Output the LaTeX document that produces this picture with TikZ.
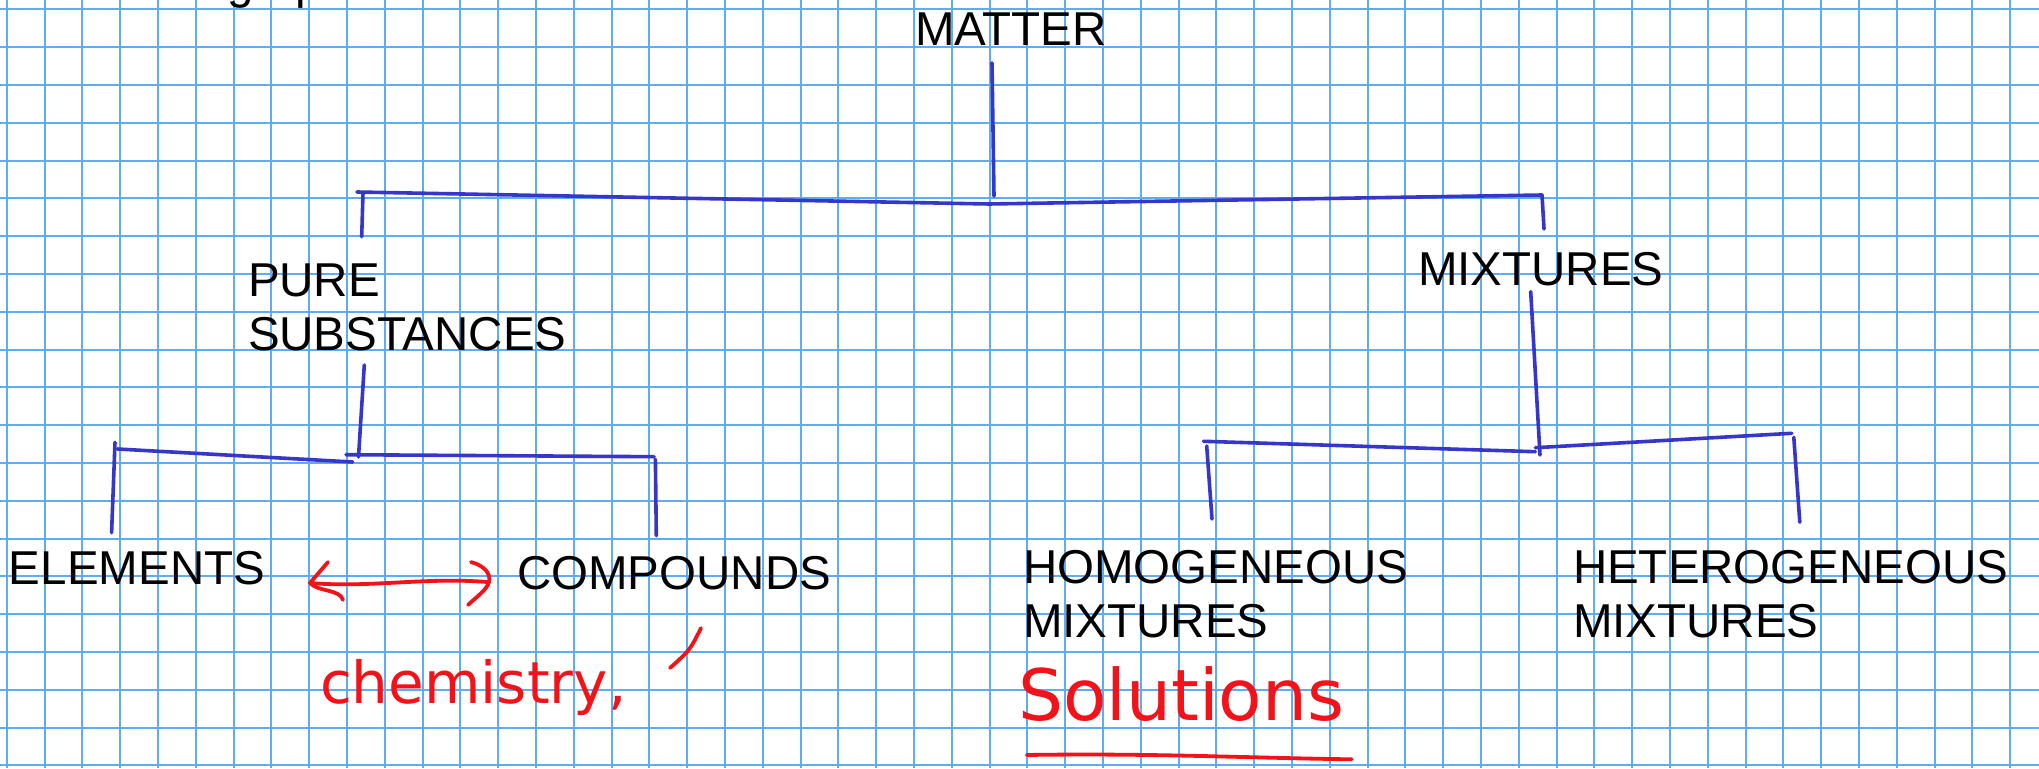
\documentclass[tikz,border=0pt]{standalone}
\usepackage{fontspec}
\setmainfont{Liberation Sans}
\newfontfamily\inkface{DejaVu Sans}
\usepackage{xcolor}
\definecolor{cGrid}{HTML}{5EABF6}
\definecolor{cTree}{HTML}{3636C9}
\definecolor{cInk}{HTML}{F2121A}
\usepackage{tikz}
\usetikzlibrary{calc}
\newcommand\lblfont{\fontsize{47.5}{53.5}\selectfont}
\newcommand\inkfont{\inkface\fontsize{58}{64}\selectfont}
\tikzset{
  node-label/.style={font=\lblfont,inner sep=0pt,outer sep=0pt,
    anchor=base west,align=left},
  node-ink/.style={font=\inkfont,text=cInk,inner sep=0pt,outer sep=0pt,
    anchor=base west},
  line-grid/.style={draw=cGrid,line width=2pt},
  line-tree/.style={draw=cTree,line width=3.6pt,line cap=round},
  line-ink/.style={draw=cInk,line width=3.8pt,line cap=round,line join=round},
}

\begin{document}
\begin{tikzpicture}[x=1pt,y=-1pt]
  \useasboundingbox (0,0) rectangle (2039,768);
  \fill[white] (0,0) rectangle (2039,768);
  % graph paper
  \foreach \k in {0,...,53}
    \draw[line-grid] ({6.7+37.8*\k},0) -- ({6.7+37.8*\k},768);
  \foreach \k in {0,...,20}
    \draw[line-grid] (0,{9.3+37.8*\k}) -- (2039,{9.3+37.8*\k});

  % labels (base of a two-line label = its last line)
  \node[node-label] (hdr) at (227,-1) {graph};
  \node[node-label] (matter) at (915,45.7) {MATTER};
  \node[node-label] (pure) at (248,350) {PURE\\SUBSTANCES};
  \node[node-label] (mix) at (1418,285.7) {MIXTURES};
  \node[node-label] (elem) at (9,584.5) {ELEMENTS};
  \node[node-label] (comp) at (517,589) {COMPOUNDS};
  \node[node-label] (homo) at (1023,637.3) {HOMOGENEOUS\\MIXTURES};
  \node[node-label] (hetero) at (1573,637.3) {HETEROGENEOUS\\MIXTURES};

  % first split
  \coordinate (mat-a) at (992,63);
  \coordinate (mat-b) at (994,196);
  \coordinate (top-l) at (357,192);
  \coordinate (top-m) at (989,204);
  \coordinate (top-r) at (1542,195);
  \coordinate (pure-a) at (363,193);
  \coordinate (pure-b) at (361.7,236.7);
  \coordinate (mix-a) at (1544,229);
  \draw[line-tree] (mat-a) -- (mat-b);
  \draw[line-tree] (top-l) -- (top-m) -- (top-r);
  \draw[line-tree] (pure-a) -- (pure-b);
  \draw[line-tree] (top-r) -- (mix-a);

  % pure substances
  \coordinate (pure-c) at (364.3,365);
  \coordinate (pure-d) at (358.5,457);
  \coordinate (lb-l) at (117.4,449);
  \coordinate (lb-m) at (352.7,462);
  \coordinate (lb-n) at (346,454.7);
  \coordinate (lb-r) at (654,456.7);
  \coordinate (elem-a) at (115,442.3);
  \coordinate (elem-b) at (111.6,532.7);
  \coordinate (comp-a) at (655.4,459.3);
  \coordinate (comp-b) at (656.3,535.7);
  \draw[line-tree] (pure-c) -- (pure-d);
  \draw[line-tree] (lb-l) -- (lb-m);
  \draw[line-tree] (lb-n) -- (lb-r);
  \draw[line-tree] (elem-a) -- (elem-b);
  \draw[line-tree] (comp-a) -- (comp-b);

  % mixtures
  \coordinate (mix-c) at (1530.7,291.7);
  \coordinate (mix-d) at (1540,455);
  \coordinate (rb-l) at (1203.4,441.3);
  \coordinate (rb-m) at (1535.4,451.7);
  \coordinate (rb-n) at (1535.4,447.7);
  \coordinate (rb-r) at (1791.8,433.3);
  \coordinate (homo-a) at (1206.7,446);
  \coordinate (homo-b) at (1212,519);
  \coordinate (het-a) at (1793.8,437.3);
  \coordinate (het-b) at (1799.8,522.3);
  \draw[line-tree] (mix-c) -- (mix-d);
  \draw[line-tree] (rb-l) -- (rb-m);
  \draw[line-tree] (rb-n) -- (rb-r);
  \draw[line-tree] (homo-a) -- (homo-b);
  \draw[line-tree] (het-a) -- (het-b);

  % red notes
  \node[node-ink] (chem) at (320,703) {chemistry,};
  \node[node-ink,font=\inkface\fontsize{71}{78}\selectfont] (sol) at (1018,720) {Solutions};
  \coordinate (arr-l) at (310,583);
  \coordinate (arr-r) at (487,582);
  \draw[line-ink] (arr-l) .. controls (370,588) and (425,577) .. (arr-r);
  \draw[line-ink] ([shift={(18,-21)}]arr-l) .. controls ([shift={(9,-10)}]arr-l) .. (arr-l)
    .. controls ([shift={(8,9)}]arr-l) and ([shift={(30,6)}]arr-l) .. ([shift={(33,17)}]arr-l);
  \draw[line-ink] ([shift={(-16,-20)}]arr-r) .. controls ([shift={(-2,-16)}]arr-r) and ([shift={(4,-8)}]arr-r) .. ([shift={(2,0)}]arr-r)
    .. controls ([shift={(0,8)}]arr-r) and ([shift={(-12,16)}]arr-r) .. ([shift={(-19,23)}]arr-r);
  \coordinate (tick-a) at (701,628);
  \coordinate (tick-b) at (670,668);
  \draw[line-ink] (tick-a) .. controls (690,650) .. (tick-b);
  \coordinate (ul-a) at (1026.7,755);
  \coordinate (ul-b) at (1351.7,759.3);
  \draw[line-ink] (ul-a) .. controls (1150,753) and (1250,758) .. (ul-b);
\end{tikzpicture}
\end{document}
